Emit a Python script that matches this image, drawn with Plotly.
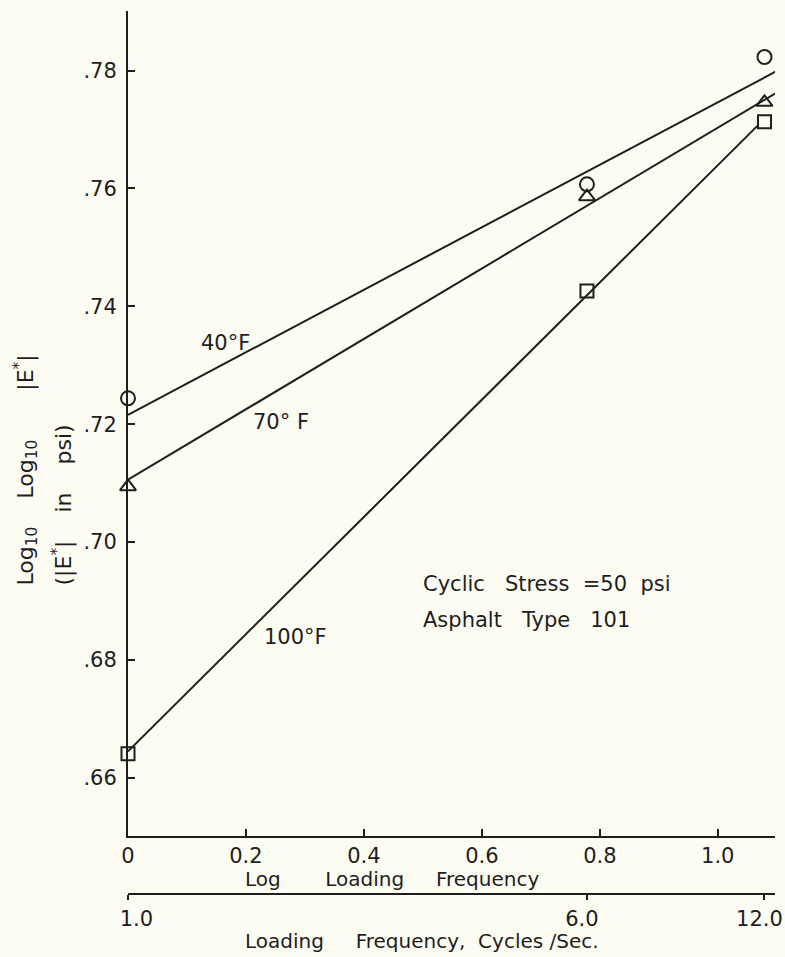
import numpy as np
import plotly.graph_objects as go

# ---------------- data ----------------
freq = [1.0, 6.0, 12.0]                      # loading frequency, cycles/sec
y_40F = [0.7244, 0.7607, 0.7823]             # log10 log10 |E*|
y_70F = [0.7094, 0.7586, 0.7746]
y_100F = [0.6641, 0.7426, 0.7713]

# fitted straight lines (log frequency, value)
fit40_x = [0.0, 1.109]
fit40_y = [0.7216, 0.7804]
fit70_x = [0.0, 1.099]
fit70_y = [0.7106, 0.7762]
fit100_x = [0.0, 1.068]
fit100_y = [0.6645, 0.7707]

x_ticks = [0, 0.2, 0.4, 0.6, 0.8, 1.0]
x_ticktext = ["0", "0.2", "0.4", "0.6", "0.8", "1.0"]
y_ticks = [0.66, 0.68, 0.70, 0.72, 0.74, 0.76, 0.78]
y_ticktext = [".66", ".68", ".70", ".72", ".74", ".76", ".78"]
f_ticks = [1, 6, 12]
f_ticktext = ["1.0", "6.0", "12.0"]

# ---------------- layout geometry ----------------
W, H = 785, 957
ML, MR, MT, MB = 128, 10, 11, 30
INK = "#1e1e1e"
BG = "#fcfcf2"
FONT = "DejaVu Sans"
NB = "\u00a0"


def px(x):
    return (x - ML) / (W - ML - MR)


def py(y):
    return (H - MB - y) / (H - MT - MB)


fig = go.Figure()

for fx, fy in [(fit40_x, fit40_y), (fit70_x, fit70_y), (fit100_x, fit100_y)]:
    fig.add_trace(go.Scatter(x=fx, y=fy, mode="lines", xaxis="x", yaxis="y",
                             line=dict(color=INK, width=2), showlegend=False,
                             hoverinfo="skip"))

for ys, sym, sz in [(y_40F, "circle-open", 14), (y_70F, "triangle-up-open", 14),
                    (y_100F, "square-open", 13)]:
    fig.add_trace(go.Scatter(x=freq, y=ys, mode="markers", xaxis="x2", yaxis="y",
                             marker=dict(symbol=sym, size=sz, color=INK,
                                         line=dict(width=2, color=INK)),
                             cliponaxis=False, showlegend=False))

axis_common = dict(showgrid=False, zeroline=False, showline=True, automargin=False,
                   linecolor=INK, linewidth=2, tickcolor=INK, tickwidth=2)

# the first frequency label sits slightly right of its tick in the original
f_ticklabels = [NB * 4 + f_ticktext[0], f_ticktext[1], f_ticktext[2]]

fig.update_layout(
    width=W, height=H, autosize=False,
    margin=dict(l=ML, r=MR, t=MT, b=MB, autoexpand=False),
    paper_bgcolor=BG, plot_bgcolor=BG,
    font=dict(family=FONT, color=INK, size=21),
    xaxis=dict(range=[0, 1.097], anchor="y", tickvals=x_ticks, ticktext=x_ticktext,
               ticks="inside", ticklen=7, tickfont=dict(size=21), **axis_common),
    xaxis2=dict(type="log", range=[0, 1.097], overlaying="x", anchor="free",
                position=py(894.3), side="bottom", tickvals=f_ticks,
                ticktext=f_ticklabels, ticks="outside", ticklen=5,
                ticklabeloverflow="allow", ticklabelshift=-5,
                tickfont=dict(size=21), **axis_common),
    yaxis=dict(range=[0.6502, 0.7901], domain=[py(835.7), 1], anchor="x",
               tickvals=y_ticks, ticktext=y_ticktext, ticks="inside", ticklen=7,
               ticklabelstandoff=5,
               tickfont=dict(size=21), **axis_common),
)

ann = []
# series labels
ann.append(dict(x=px(225), y=py(343), text="40°F"))
ann.append(dict(x=px(281), y=py(422), text="70°" + NB + "F"))
ann.append(dict(x=px(295), y=py(637), text="100°F"))
# note
ann.append(dict(x=px(421), y=py(584), xanchor="left",
                text="Cyclic" + NB * 3 + "Stress" + NB * 2 + "=50" + NB * 2 + "psi"))
ann.append(dict(x=px(421), y=py(620), xanchor="left",
                text="Asphalt" + NB * 3 + "Type" + NB * 3 + "101"))
# axis titles
ann.append(dict(x=px(243), y=py(879), xanchor="left", font=dict(size=20),
                text="Log" + NB * 7 + "Loading" + NB * 5 + "Frequency"))
ann.append(dict(x=px(243), y=py(941), xanchor="left", font=dict(size=20),
                text="Loading" + NB * 5 + "Frequency," + NB * 2 + "Cycles" + NB + "/Sec."))
ann.append(dict(x=px(25), y=py(588), yanchor="bottom", textangle=-90, font=dict(size=22),
                text="Log<sub>10</sub>" + NB * 4 + "Log<sub>10</sub>" + NB * 7 + "|E<sup>*</sup>|"))
ann.append(dict(x=px(62), y=py(588), yanchor="bottom", textangle=-90, font=dict(size=22),
                text="(|E<sup>*</sup>|" + NB * 4 + "in" + NB * 4 + "psi)"))

for a in ann:
    a.setdefault("xref", "paper")
    a.setdefault("yref", "paper")
    a.setdefault("showarrow", False)
    a.setdefault("xanchor", "center")
    a.setdefault("yanchor", "middle")
    a.setdefault("font", dict(size=21))
    fig.add_annotation(**a)

fig.write_html(
    "out.html",
    config={"displayModeBar": False},
    post_script="document.body.style.margin='0';"
                "document.body.style.background='" + BG + "';",
)
